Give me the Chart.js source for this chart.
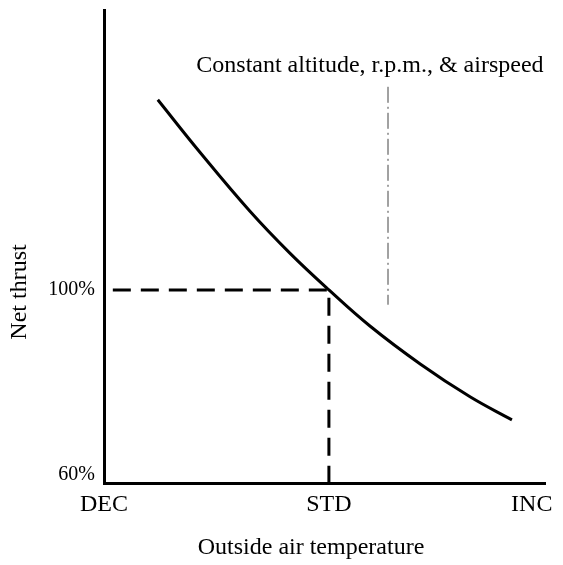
<!DOCTYPE html>
<html>
<head>
<meta charset="utf-8">
<script src="https://cdn.jsdelivr.net/npm/chart.js@4"></script>
<style>
  html, body { margin: 0; padding: 0; background: #fff; }
  #wrap { width: 563px; height: 565px; }
</style>
</head>
<body>
<div id="wrap"><canvas id="thrustChart"></canvas></div>
<script>
// temperature runs 0 (cold) .. 100 (hot), thrust in percent of standard
const tempTicks = [0, 51, 97];
const tempLabels = ['DEC', 'STD', 'INC'];
const thrustTicks = [60, 100];
const thrustLabels = ['60%', '100%'];

const curveTemp = [12.2, 21.8, 33.1, 42.2, 51, 60.3, 71.7, 83.0, 92.5];
const curveThrust = [141.1, 129.7, 117.0, 107.9, 100, 92.2, 84.0, 76.9, 71.9];

// dashed guide to the standard-day point
const stdTemp = [2, 51, 51];
const stdThrust = [100, 100, 58.3];

// dash-dot leader under the note
const leaderTemp = [64.4, 64.4];
const leaderThrust = [143.9, 96.8];

const noteText = 'Constant altitude, r.p.m., & airspeed';
const noteTemp = 60.3;
const noteThrust = 148.4;

const xTitle = 'Outside air temperature';
const yTitle = 'Net thrust';

const toPoints = (xs, ys) => xs.map((v, i) => ({ x: v, y: ys[i] }));

const serif = '"Liberation Serif", "Times New Roman", serif';

const textPlugin = {
  id: 'texts',
  afterDraw(chart) {
    const { ctx, scales: { x, y } } = chart;
    ctx.save();
    ctx.fillStyle = '#000';
    ctx.font = '24px ' + serif;
    ctx.textAlign = 'center';
    ctx.textBaseline = 'middle';
    ctx.fillText(noteText, x.getPixelForValue(noteTemp), y.getPixelForValue(noteThrust));
    ctx.fillText(xTitle, 311, 548);
    ctx.translate(20, 292);
    ctx.rotate(-Math.PI / 2);
    ctx.fillText(yTitle, 0, 0);
    ctx.restore();
  }
};

new Chart(document.getElementById('thrustChart'), {
  type: 'scatter',
  data: {
    datasets: [
      {
        data: toPoints(curveTemp, curveThrust),
        showLine: true,
        borderColor: '#000',
        borderWidth: 3,
        pointRadius: 0,
        tension: 0.4
      },
      {
        data: toPoints(stdTemp, stdThrust),
        showLine: true,
        borderColor: '#000',
        borderWidth: 3,
        borderDash: [18, 10],
        pointRadius: 0
      },
      {
        data: toPoints(leaderTemp, leaderThrust),
        showLine: true,
        borderColor: '#444',
        borderWidth: 1,
        borderDash: [16, 4, 2, 4],
        pointRadius: 0
      }
    ]
  },
  options: {
    responsive: true,
    maintainAspectRatio: false,
    animation: false,
    layout: { padding: { left: 0, top: 10, right: 18, bottom: 0 } },
    plugins: {
      legend: { display: false },
      tooltip: { enabled: false }
    },
    scales: {
      x: {
        type: 'linear',
        min: 0,
        max: 100,
        afterFit: s => { s.height = 82; s.paddingLeft = 0; s.paddingRight = 0; },
        afterBuildTicks: s => { s.ticks = tempTicks.map(v => ({ value: v })); },
        grid: { display: false, drawTicks: false },
        border: { display: true, color: '#000', width: 3 },
        ticks: {
          padding: 7,
          maxRotation: 0,
          autoSkip: false,
          color: '#000',
          font: { family: serif, size: 24 },
          callback: v => tempLabels[tempTicks.indexOf(v)]
        }
      },
      y: {
        type: 'linear',
        min: 58.27,
        max: 160.5,
        afterFit: s => { s.width = 104; s.paddingTop = 0; s.paddingBottom = 0; },
        afterBuildTicks: s => { s.ticks = thrustTicks.map(v => ({ value: v })); },
        grid: { display: false, drawTicks: false },
        border: { display: true, color: '#000', width: 3 },
        ticks: {
          padding: 9,
          color: '#000',
          font: { family: serif, size: 20 },
          callback: v => thrustLabels[thrustTicks.indexOf(v)]
        }
      }
    }
  },
  plugins: [textPlugin]
});
</script>
</body>
</html>
